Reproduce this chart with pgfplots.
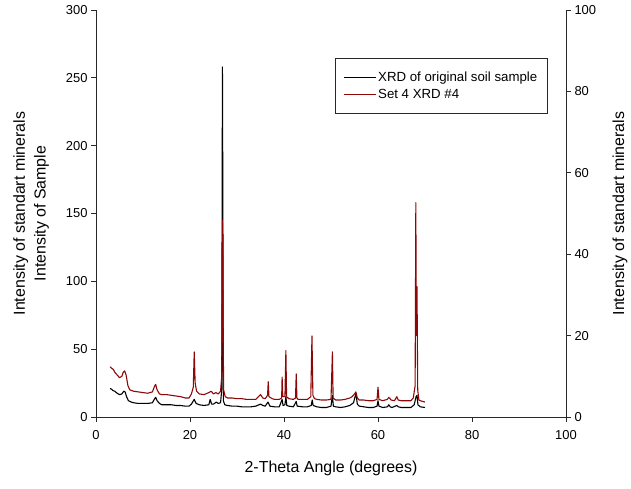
\documentclass[border=0pt]{standalone}
\usepackage{fontspec}
\setmainfont{Liberation Sans}
\usepackage{pgfplots}
\pgfplotsset{compat=1.18}
\definecolor{darkred}{RGB}{140,8,8}
\definecolor{axgray}{RGB}{40,40,40}
\begin{document}
\begin{tikzpicture}
\pgfplotsset{
  every axis/.append style={
    scale only axis, width=470bp, height=407bp,
    xmin=0, xmax=100,
    tick align=outside, major tick length=5bp,
    /pgf/number format/assume math mode=true,
    tick label style={font=\fontsize{13}{15}\selectfont},
    label style={font=\fontsize{16}{21}\selectfont},
    axis line style={axgray, line width=0.8pt},
    every tick/.style={axgray, line width=0.8pt},
  }
}
\begin{axis}[name=ax,
  axis x line*=bottom, axis y line*=left,
  ymin=0, ymax=300,
  xtick={0,20,...,100}, ytick={0,50,...,300},
  x tick label style={yshift=-5bp},
  xlabel={2-Theta Angle (degrees)},
  ylabel={Intensity of standart minerals\\Intensity of Sample},
  ylabel style={align=center, at={(axis description cs:-0.138,0.5)}, anchor=center},
  xlabel style={at={(axis description cs:0.5,-0.127)}, anchor=center},
  legend style={at={(0.5085,0.882)}, anchor=north west, draw=axgray, line width=0.8pt,
    font=\fontsize{13.3}{15}\selectfont, inner xsep=8bp, inner ysep=11bp, row sep=3bp},
  legend cell align=left,
  legend image code/.code={\draw[#1, line width=0.8pt] (0bp,0bp) -- (32bp,0bp);},
]
\addplot[black, line width=1.1pt, line join=round] coordinates {
(3.0,21) (3.3,20.5) (3.6,19.5) (4.0,19) (4.5,17.5) (5.0,16.5) (5.5,17) (5.9,19) (6.2,18.5) (6.5,15) (6.9,12)
(7.5,11) (8.0,10.5) (9.0,10) (10.0,10) (11.0,10) (12.0,10.5) (12.4,13) (12.7,14.5) (13.0,12) (13.5,10)
(14.0,9) (15.0,9) (16.0,9) (17.0,8.5) (18.0,8.5) (19.0,8) (19.8,8) (20.3,9.5) (20.9,13) (21.3,10)
(22.0,9) (23.0,8.5) (24.0,9) (24.3,13) (24.6,9.5) (25.0,9.5) (25.6,11) (26.0,10) (26.5,10.5) (26.75,20)
(26.9,258) (27.0,150) (27.1,12) (27.4,9) (28.0,8.5) (29.0,8) (30.0,8) (31.0,7.5) (32.0,7.5) (33.0,7.5)
(34.0,8) (35.0,9.5) (35.5,8.5) (36.0,8) (36.6,11) (37.0,8) (38.0,7.5) (39.0,7.5) (39.6,13) (39.8,8.5)
(40.2,9) (40.4,15) (40.6,8.5) (41.0,8) (42.0,7.5) (42.6,11.5) (42.8,8) (44.0,7.5) (45.0,7.5) (45.8,8.5)
(46.0,12.5) (46.2,8.5) (47.0,7.5) (48.0,7) (49.0,7) (50.0,8) (50.3,16) (50.5,8) (51.0,7.5) (52.0,7)
(53.0,7.5) (54.0,8.5) (54.8,10.5) (55.3,17.5) (55.6,9.5) (56.0,8) (57.0,7.5) (58.0,7) (59.0,7) (59.8,8)
(60.0,12) (60.2,8) (61.0,7) (62.0,7.5) (62.3,9) (62.6,7.5) (63.0,7) (64.0,8.5) (64.3,7.5) (65.0,7)
(66.0,7) (67.0,7) (67.7,9) (68.1,15) (68.3,16) (68.5,9) (69.0,7.5) (70.0,7)
};
\addlegendentry{XRD of original soil sample}
\addplot[darkred, line width=1.1pt, line join=round] coordinates {
(3.0,37) (3.3,36) (3.7,35) (4.0,33) (4.5,31) (5.0,29) (5.5,30) (5.8,33) (6.1,34) (6.4,31) (6.8,23)
(7.2,20) (8,19) (9,18.5) (10,18) (11,17.5) (12,18.5) (12.5,23) (12.7,24) (13.0,20) (13.5,17)
(14,16.5) (15,16.5) (16,16) (17,15.5) (18,15) (19,14) (19.8,14) (20.3,17) (20.7,22) (20.9,48)
(21.1,25) (21.4,19) (22,17) (23,16.5) (24,18) (24.5,19) (25,17) (25.5,18) (26,17) (26.5,19)
(26.75,30) (26.9,145) (27.0,100) (27.15,20) (27.5,15) (28,14) (29,14) (30,13.5) (31,13.5) (32,13)
(33,13) (34,13) (35,16.5) (35.5,14) (36,13.5) (36.5,16) (36.65,26) (36.8,15) (37.5,13.5) (38,13)
(39,13) (39.5,14) (39.6,29.5) (39.75,15) (40.2,15) (40.4,49) (40.55,15) (41,13.5) (42,13) (42.45,14)
(42.6,31.7) (42.75,14) (43,13) (44,13) (45,13) (45.7,15) (45.95,59.7) (46.15,16) (46.5,13.5) (47,13)
(48,12.5) (49,12.5) (50,13) (50.3,48) (50.45,14) (51,12.5) (52,12.5) (53,13) (54,14) (54.5,15)
(55,17) (55.3,18.5) (55.6,14) (56,12.5) (57,12.5) (58,12) (59,12) (59.8,13) (60.0,22) (60.2,13)
(61,12) (62,13) (62.3,14.5) (62.8,12.5) (63.5,12) (64,15) (64.3,12.5) (65,12) (66,12) (67,12)
(67.5,14) (67.9,23) (68.05,158) (68.15,60) (68.3,96) (68.45,20) (68.7,12.5) (69,12) (70,11)
};
\addlegendentry{Set 4 XRD \#4}
\end{axis}
\begin{axis}[
  axis x line=none, axis y line*=right,
  ymin=0, ymax=100, ytick={0,20,...,100},
  ylabel={Intensity of standart minerals},
  ylabel style={at={(axis description cs:1.115,0.5)}, anchor=center},
]
\addplot[draw=none] coordinates {(0,0)};
\end{axis}
\pgfresetboundingbox
\path (ax.south west) ++(-96bp,-72bp) rectangle ++(631bp,489bp);
\end{tikzpicture}
\end{document}
